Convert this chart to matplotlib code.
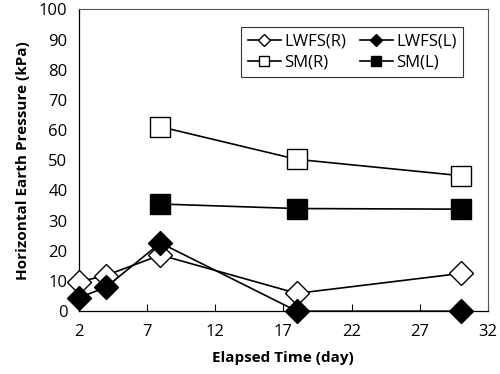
"""Horizontal earth pressure vs elapsed time for LWFS and SM walls."""

import matplotlib

matplotlib.use("Agg")
import matplotlib.pyplot as plt

plt.rcParams["font.family"] = ["Open Sans", "DejaVu Sans"]

days_lwfs = [2, 4, 8, 18, 30]
lwfs_r = [9.7, 11.8, 18.6, 5.9, 12.5]
lwfs_l = [4.4, 7.9, 22.6, 0.0, 0.0]

days_sm = [8, 18, 30]
sm_r = [61.1, 50.3, 44.9]
sm_l = [35.5, 34.0, 33.8]

x_ticks = [2, 7, 12, 17, 22, 27, 32]
y_ticks = list(range(0, 101, 10))

fig = plt.figure(figsize=(5.0, 3.74), dpi=100)
ax = fig.add_axes([0.157, 0.168, 0.819, 0.807])

line_kw = dict(color="black", lw=1.2, clip_on=False, zorder=3)
h_lr, = ax.plot(days_lwfs, lwfs_r, marker="D", ms=12, mfc="white", mec="black", mew=1.0,
                label="LWFS(R)", **line_kw)
h_ll, = ax.plot(days_lwfs, lwfs_l, marker="D", ms=12, mfc="black", mec="black",
                label="LWFS(L)", **line_kw)
h_sr, = ax.plot(days_sm, sm_r, marker="s", ms=14, mfc="white", mec="black", mew=1.0,
                label="SM(R)", **line_kw)
h_sl, = ax.plot(days_sm, sm_l, marker="s", ms=14, mfc="black", mec="black",
                label="SM(L)", **line_kw)

ax.set_xlim(2, 32)
ax.set_ylim(0, 100)
ax.set_xticks(x_ticks)
ax.set_yticks(y_ticks)
ax.tick_params(axis="x", direction="in", length=5, width=0.8, labelsize=12, pad=9)
ax.tick_params(axis="y", length=0, labelsize=12, pad=8)

for side in ("left", "bottom"):
    ax.spines[side].set_color("black")
    ax.spines[side].set_linewidth(0.9)
for side in ("top", "right"):
    ax.spines[side].set_color("#555555")
    ax.spines[side].set_linewidth(0.8)

ax.set_xlabel("Elapsed Time (day)", fontsize=11, fontweight="bold", labelpad=8)
ax.set_ylabel("Horizontal Earth Pressure (kPa)", fontsize=11, fontweight="bold", labelpad=6)

# column-major fill: rows read LWFS(R) LWFS(L) / SM(R) SM(L)
leg = ax.legend([h_lr, h_sr, h_ll, h_sl], ["LWFS(R)", "SM(R)", "LWFS(L)", "SM(L)"],
                ncol=2, loc="upper right", bbox_to_anchor=(0.96, 0.97), fontsize=12,
                markerscale=0.5, frameon=True, fancybox=False, handlelength=2.0,
                handletextpad=0.2, columnspacing=0.8, borderpad=0.4, labelspacing=0.3)
leg.get_frame().set_edgecolor("black")
leg.get_frame().set_linewidth(0.8)

fig.savefig("out.png", dpi=100)
